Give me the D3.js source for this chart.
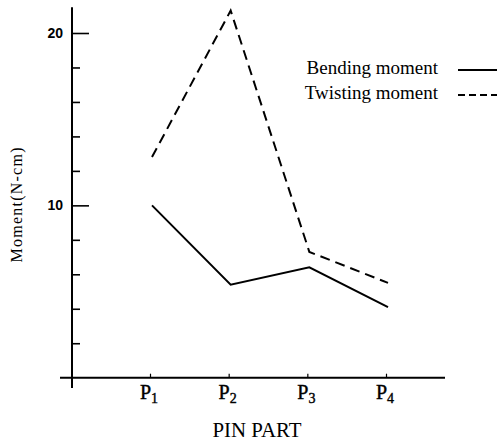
<!DOCTYPE html>
<html><head><meta charset="utf-8">
<script src="https://cdn.jsdelivr.net/npm/d3@7"></script>
<style>body{margin:0;background:#fff}</style>
</head><body>
<svg id="c" width="502" height="441"></svg>
<script>
const categories = ["P1","P2","P3","P4"];
const bending = [10.0, 5.4, 6.4, 4.1];
const twisting = [12.8, 21.3, 7.3, 5.5];
const yTicks = [2,4,6,8,10,12,14,16,18,20];
const yLabels = [10,20];

const svg = d3.select("#c");
const x = d3.scalePoint().domain(categories).range([150, 386]);
const y = d3.scaleLinear().domain([0, 20]).range([377.7, 33]);
const axisX = 72;

// y axis line
svg.append("line").attr("x1",axisX).attr("x2",axisX)
  .attr("y1",y(21.5)).attr("y2",388).attr("stroke","#000").attr("stroke-width",2);
// x axis line
svg.append("line").attr("x1",60).attr("x2",445)
  .attr("y1",y(0)).attr("y2",y(0)).attr("stroke","#000").attr("stroke-width",2);

// y ticks
const ya = svg.append("g").attr("transform",`translate(${axisX},0)`)
  .call(d3.axisRight(y).tickValues(yTicks).tickSize(8).tickFormat(""));
ya.select(".domain").remove();
ya.selectAll(".tick line").attr("stroke","#000").attr("stroke-width",1.6)
  .attr("x2", d => yLabels.includes(d) ? 17 : 8);
svg.selectAll(".ylab").data(yLabels).enter().append("text")
  .attr("x",63).attr("y",d=>y(d)+5).attr("text-anchor","end")
  .attr("font-family","Liberation Sans, Arial, sans-serif").attr("font-weight","bold")
  .attr("font-size",14).text(d=>d);

// x ticks
const xa = svg.append("g").attr("transform",`translate(0,${y(0)})`)
  .call(d3.axisTop(x).tickSize(4).tickFormat(""));
xa.select(".domain").remove();
xa.selectAll(".tick line").attr("stroke","#000").attr("stroke-width",1.2);
const xl = svg.selectAll(".xlab").data(categories).enter().append("text")
  .attr("x",d=>x(d)-1).attr("y",399).attr("text-anchor","middle")
  .attr("font-family","Liberation Serif, Times New Roman, serif").attr("font-size",20)
  .attr("stroke","#000").attr("stroke-width",0.4);
xl.append("tspan").text(d=>d[0]);
xl.append("tspan").attr("dy",4).attr("font-size",14).text(d=>d.slice(1));

svg.append("text").attr("x",257).attr("y",437).attr("text-anchor","middle")
  .attr("font-family","Liberation Serif, Times New Roman, serif").attr("font-size",20)
  .attr("textLength",89).attr("lengthAdjust","spacingAndGlyphs")
  .text("PIN PART");
svg.append("text").attr("transform","translate(22,205) rotate(-90)").attr("text-anchor","middle")
  .attr("font-family","Liberation Serif, Times New Roman, serif").attr("font-size",16)
  .attr("textLength",115).attr("lengthAdjust","spacing")
  .text("Moment(N-cm)");

const line = d3.line().x((d,i)=>x(categories[i])+2).y(d=>y(d));
svg.append("path").datum(bending).attr("d",line).attr("fill","none")
  .attr("stroke","#000").attr("stroke-width",2);
svg.append("path").datum(twisting).attr("d",line).attr("fill","none")
  .attr("stroke","#000").attr("stroke-width",2).attr("stroke-dasharray","10,6");

// legend
const leg = [{name:"Bending moment",dash:null,y:74},{name:"Twisting moment",dash:"7,4",y:99}];
leg.forEach(l=>{
  svg.append("text").attr("x",438).attr("y",l.y).attr("text-anchor","end")
    .attr("font-family","Liberation Serif, Times New Roman, serif").attr("font-size",19).text(l.name);
  svg.append("line").attr("x1",458).attr("x2",497).attr("y1",l.y-4).attr("y2",l.y-4)
    .attr("stroke","#000").attr("stroke-width",2).attr("stroke-dasharray",l.dash);
});
</script>
</body></html>
